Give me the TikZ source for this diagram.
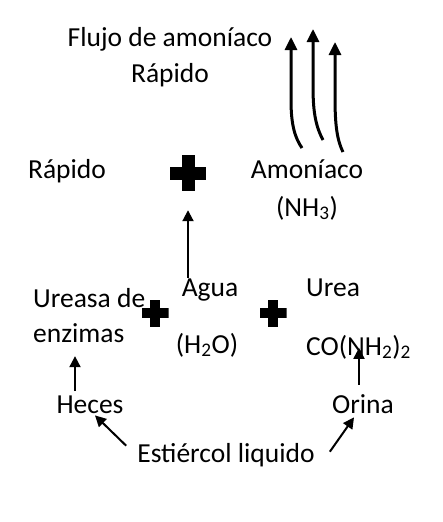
\documentclass[tikz,border=0pt]{standalone}
\usepackage{fontspec}
\setmainfont{Carlito}
\usetikzlibrary{arrows.meta,calc}
\tikzset{
    lbl/.style={inner sep=0pt, font=\fontsize{27.5}{33}\selectfont, anchor=base, align=center},
    lblw/.style={lbl, anchor=base west, align=left},
    flow/.style={-{Triangle[length=11pt,width=11pt]}, line width=2pt},
    rise/.style={-{Triangle[length=13pt,width=12pt]}, line width=3pt},
    plussign/.style 2 args={minimum size=#1, inner sep=0pt, path picture={
        \fill ([yshift=-#2/2]path picture bounding box.west) rectangle ([yshift=#2/2]path picture bounding box.east);
        \fill ([xshift=-#2/2]path picture bounding box.south) rectangle ([xshift=#2/2]path picture bounding box.north);}},
}
\begin{document}
\begin{tikzpicture}[x=1pt, y=-1pt]
    \useasboundingbox (0,0) rectangle (442,522);
    \node[lbl] (flux) at (170,82) {Flujo de amoníaco\\[3pt]Rápido};
    \node[lbl] (fast) at (67,178) {Rápido};
    \node[plussign={36pt}{13pt}] (plus1) at (188,173) {};
    \node[lbl] (ammonia) at (307,216) {Amoníaco\\[5pt](NH\textsubscript{3})};
    \node[lbl] (water) at (210,296) {Agua};
    \node[lbl] (waterf) at (207,353) {(H\textsubscript{2}O)};
    \node[lblw] (enzyme) at (33,342) {Ureasa de\\[2pt]enzimas};
    \node[plussign={27pt}{10pt}] (plus2) at (155,313) {};
    \node[plussign={27pt}{10pt}] (plus3) at (273,313) {};
    \node[lblw] (urea) at (306,296) {Urea};
    \node[lblw] (ureaf) at (306,355) {CO(NH\textsubscript{2})\textsubscript{2}};
    \node[lbl] (feces) at (90,413) {Heces};
    \node[lbl] (urine) at (363,413) {Orina};
    \node[lbl] (manure) at (226,462) {Estiércol liquido};

    % ammonia rising
    \coordinate (r1a) at (302,148); \coordinate (r1b) at (291,37);
    \coordinate (r2a) at (323,140); \coordinate (r2b) at (313,29);
    \coordinate (r3a) at (343,152); \coordinate (r3b) at (335,42);
    \draw[rise] (r1a) .. controls +(-7,-10) and +(0,25) .. ($(r1b)+(0,63)$) -- (r1b);
    \draw[rise] (r2a) .. controls +(-8,-15) and +(0,25) .. ($(r2b)+(0,56)$) -- (r2b);
    \draw[rise] (r3a) .. controls +(-7,-14) and +(0,25) .. ($(r3b)+(0,53)$) -- (r3b);

    \draw[flow] (water.north -| plus1.south) -- ($(plus1.south)+(0,19)$);
    \draw[flow] ($(feces.north)+(-15,-4)$) -- ($(feces.north)+(-15,-39)$);
    \draw[flow] ($(urine.north)+(-4,-9)$) -- ($(urine.north)+(-4,-46)$);
    \draw[flow] ($(manure.north west)+(-11,3)$) -- ($(feces.south)+(5,2)$);
    \draw[flow] ($(manure.north east)+(15,9)$) -- ($(urine.south)+(-9,4)$);
\end{tikzpicture}
\end{document}
